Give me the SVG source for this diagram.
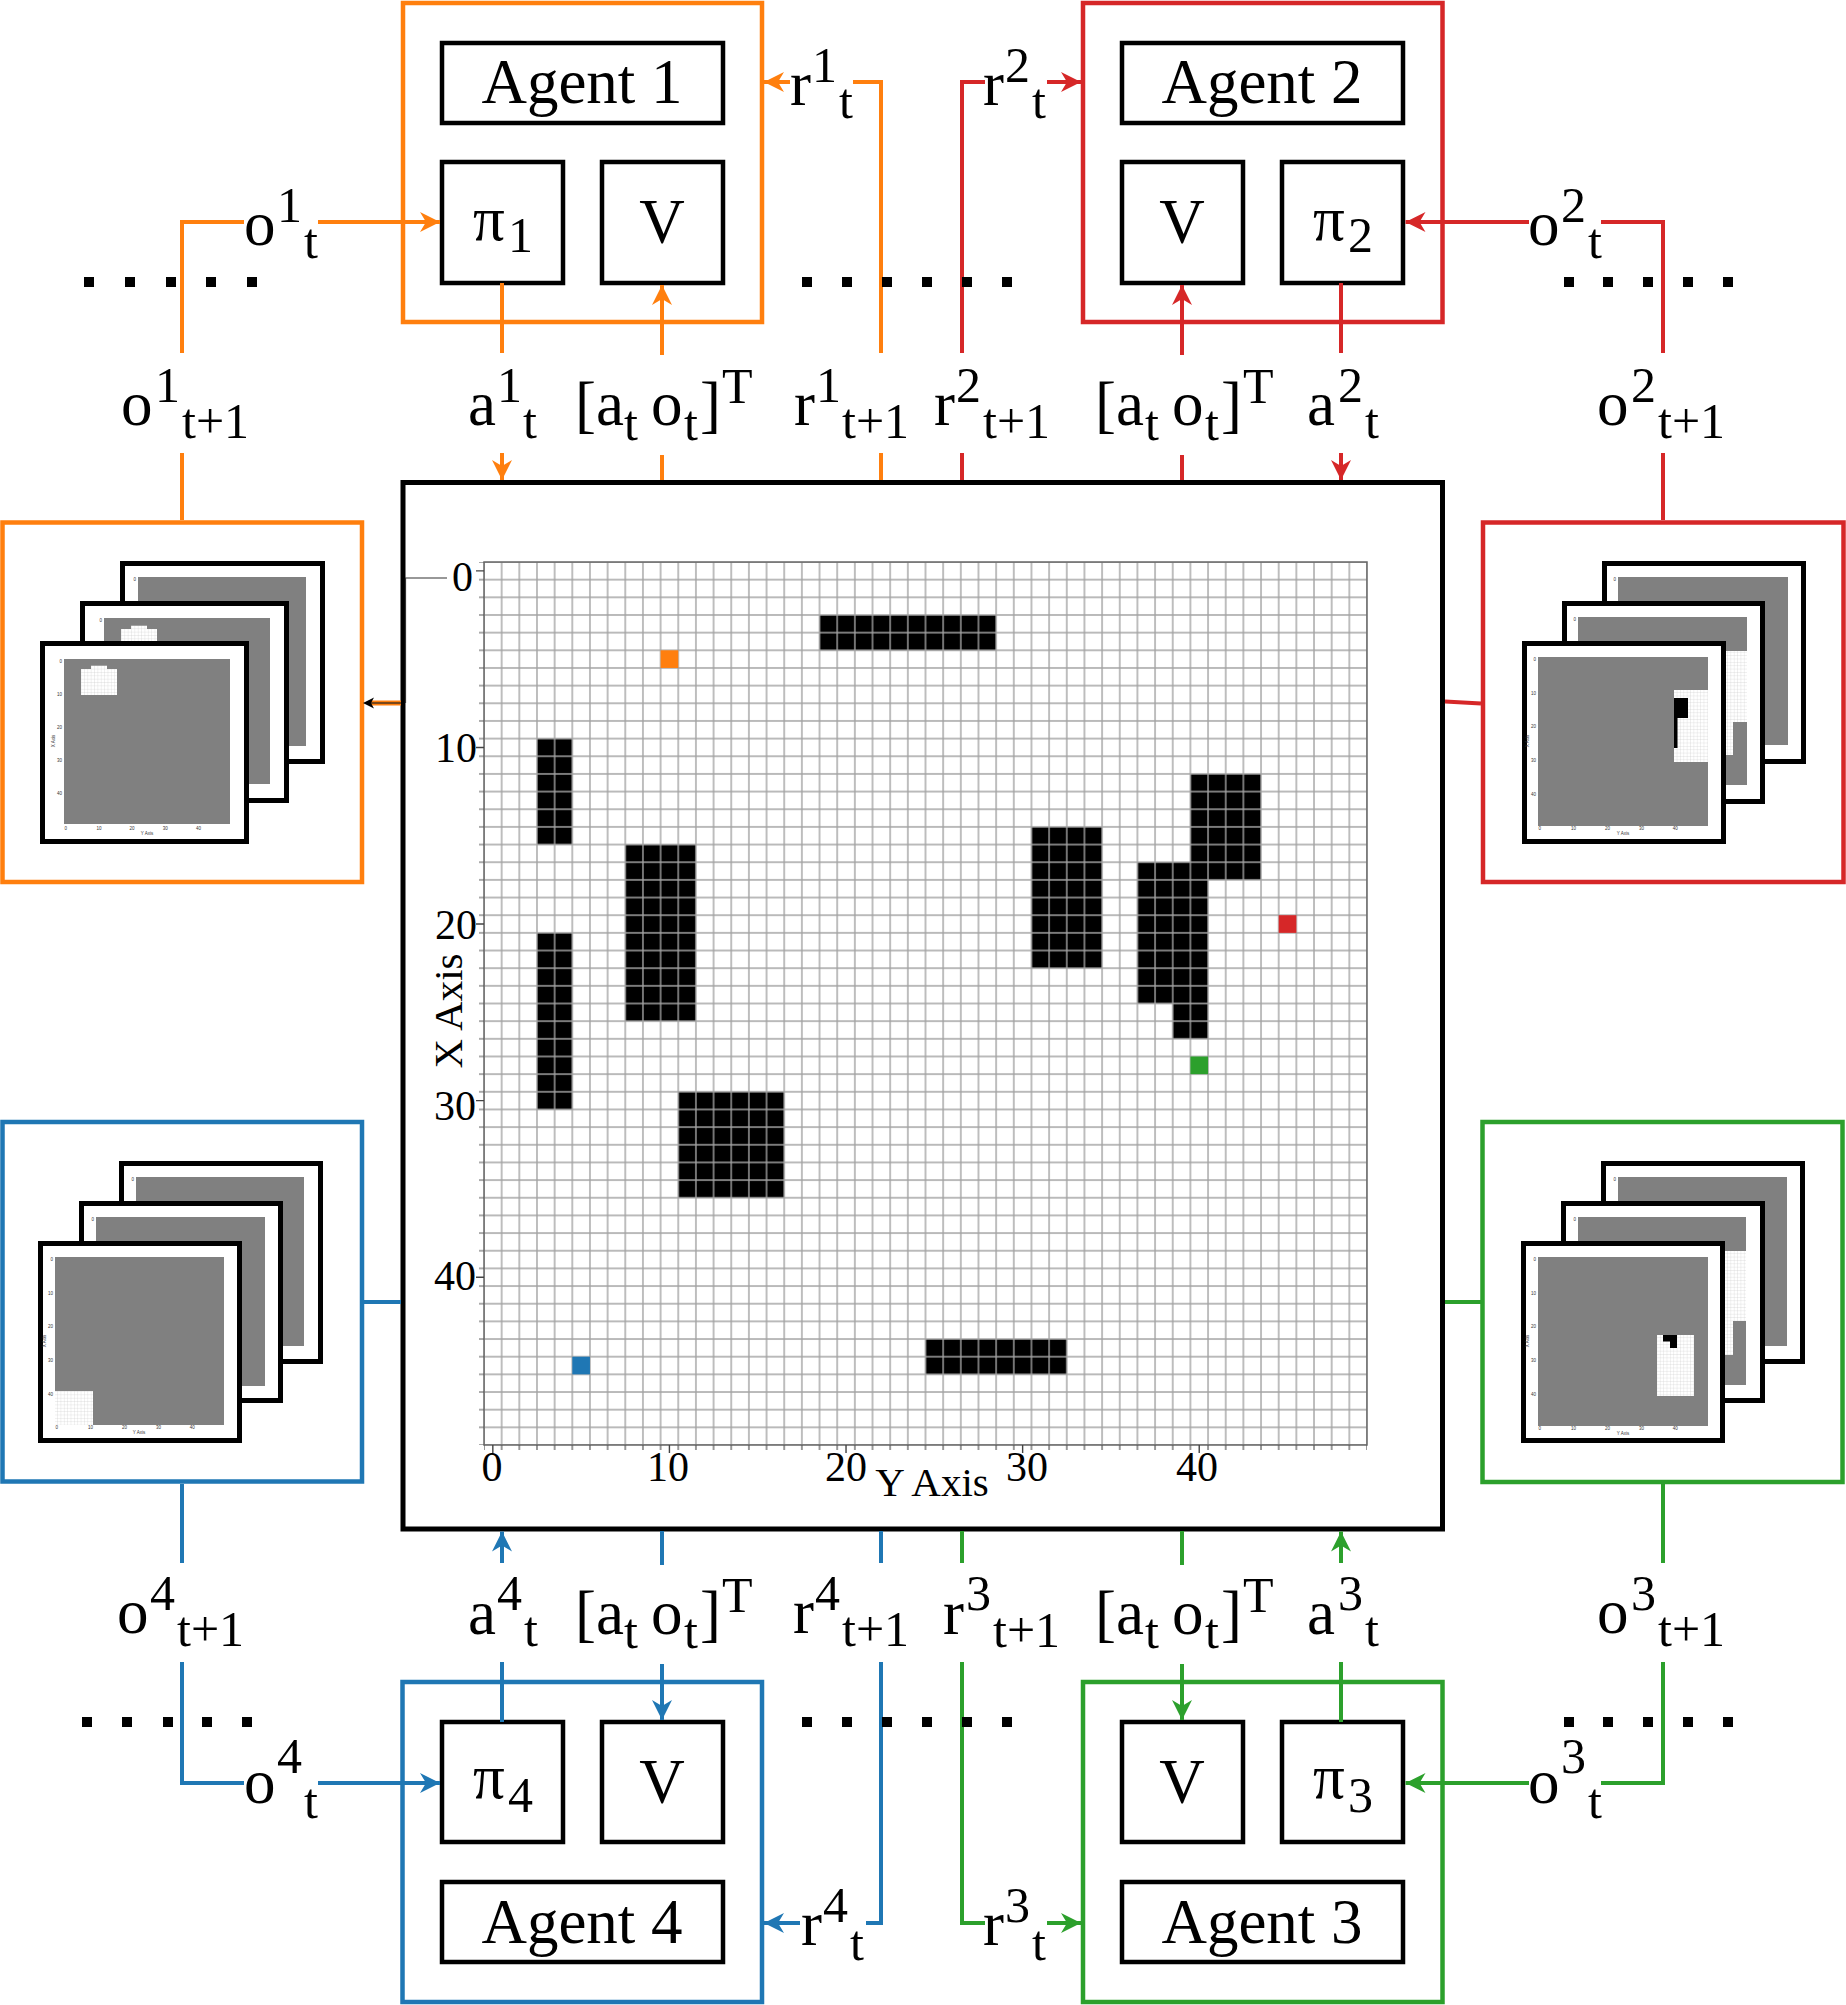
<svg xmlns="http://www.w3.org/2000/svg" width="1846" height="2005" viewBox="0 0 1846 2005">
<defs>
<style>
.t{font-family:"Liberation Serif","Times New Roman",serif;font-size:63px;fill:#000}
.s{font-size:50px}
.mid{text-anchor:middle}
.tk{font-family:"Liberation Serif","Times New Roman",serif;font-size:42px;fill:#000}
.ax{font-family:"Liberation Serif","Times New Roman",serif;font-size:41px;fill:#000;text-anchor:middle}
.mini{font-family:"Liberation Sans",Arial,sans-serif;font-size:4.5px;fill:#333}
.mr{text-anchor:end}
.mm{text-anchor:middle}
.box{fill:#fff;stroke:#000;stroke-width:4.5}
.frame{fill:#fff;stroke:#000;stroke-width:5}
.gray{fill:#808080}
.patch{fill:url(#mini)}
.c{fill:none;stroke-width:4}
.co{stroke:#ff7f0e}
.cr{stroke:#d62728}
.cg{stroke:#2ca02c}
.cb{stroke:#1f77b4}
.obs{fill:#fff;stroke-width:4.5}
.dot{fill:#000}
</style>
<pattern id="grid" x="484" y="562" width="17.66" height="17.66" patternUnits="userSpaceOnUse">
<path d="M0,0H17.66M0,17.66H17.66M0,0V17.66M17.66,0V17.66" fill="none" stroke="#a3a3a3" stroke-width="1.4"/>
</pattern>
<pattern id="mini" x="0" y="0" width="3.36" height="3.36" patternUnits="userSpaceOnUse">
<rect width="3.36" height="3.36" fill="#fff"/>
<path d="M0,0H3.36M0,0V3.36" fill="none" stroke="#c8c8c8" stroke-width="0.5"/>
</pattern>
<pattern id="yticks" x="0" y="562" width="10" height="17.66" patternUnits="userSpaceOnUse">
<path d="M0,0H10M0,17.66H10" stroke="#555" stroke-width="1.2"/>
</pattern>
<pattern id="xticks" x="484" y="0" width="17.66" height="10" patternUnits="userSpaceOnUse">
<path d="M0,0V10M17.66,0V10" stroke="#555" stroke-width="1.2"/>
</pattern>
<marker id="ao" viewBox="0 0 20 20" refX="20" refY="10" markerWidth="20" markerHeight="20" markerUnits="userSpaceOnUse" orient="auto"><path d="M0,0L20,10L0,20L6,10Z" fill="#ff7f0e"/></marker>
<marker id="ar" viewBox="0 0 20 20" refX="20" refY="10" markerWidth="20" markerHeight="20" markerUnits="userSpaceOnUse" orient="auto"><path d="M0,0L20,10L0,20L6,10Z" fill="#d62728"/></marker>
<marker id="ag" viewBox="0 0 20 20" refX="20" refY="10" markerWidth="20" markerHeight="20" markerUnits="userSpaceOnUse" orient="auto"><path d="M0,0L20,10L0,20L6,10Z" fill="#2ca02c"/></marker>
<marker id="ab" viewBox="0 0 20 20" refX="20" refY="10" markerWidth="20" markerHeight="20" markerUnits="userSpaceOnUse" orient="auto"><path d="M0,0L20,10L0,20L6,10Z" fill="#1f77b4"/></marker>
</defs>

<rect width="1846" height="2005" fill="#fff"/>

<!-- Agent 1 -->
<g id="agent1">
<rect x="403" y="3" width="359" height="319" fill="none" stroke="#ff7f0e" stroke-width="4.5"/>
<rect class="box" x="442" y="43" width="281" height="80"/>
<text class="t mid" x="582" y="103">Agent 1</text>
<rect class="box" x="442" y="162" width="121" height="121"/>
<text class="t"><tspan x="473" y="240">π</tspan><tspan class="s" x="508" y="252">1</tspan></text>
<rect class="box" x="602" y="162" width="121" height="121"/>
<text class="t mid" x="662" y="243">V</text>
</g>

<!-- Agent 2 -->
<g id="agent2">
<rect x="1083" y="3" width="359.5" height="319" fill="none" stroke="#d62728" stroke-width="4.5"/>
<rect class="box" x="1122" y="43" width="281" height="80"/>
<text class="t mid" x="1262" y="103">Agent 2</text>
<rect class="box" x="1122" y="162" width="121" height="121"/>
<text class="t mid" x="1182" y="243">V</text>
<rect class="box" x="1282" y="162" width="121" height="121"/>
<text class="t"><tspan x="1313" y="240">π</tspan><tspan class="s" x="1348" y="252">2</tspan></text>
</g>

<!-- Agent 4 -->
<g id="agent4">
<rect x="402.5" y="1682" width="359.5" height="320" fill="none" stroke="#1f77b4" stroke-width="4.5"/>
<rect class="box" x="442" y="1722" width="121" height="120"/>
<text class="t"><tspan x="473" y="1798">π</tspan><tspan class="s" x="508" y="1812">4</tspan></text>
<rect class="box" x="602" y="1722" width="121" height="120"/>
<text class="t mid" x="662" y="1803">V</text>
<rect class="box" x="442" y="1882" width="281" height="80"/>
<text class="t mid" x="582" y="1943">Agent 4</text>
</g>

<!-- Agent 3 -->
<g id="agent3">
<rect x="1083" y="1682" width="359.5" height="320" fill="none" stroke="#2ca02c" stroke-width="4.5"/>
<rect class="box" x="1122" y="1722" width="121" height="120"/>
<text class="t mid" x="1182" y="1803">V</text>
<rect class="box" x="1282" y="1722" width="121" height="120"/>
<text class="t"><tspan x="1313" y="1798">π</tspan><tspan class="s" x="1348" y="1812">3</tspan></text>
<rect class="box" x="1122" y="1882" width="281" height="80"/>
<text class="t mid" x="1262" y="1943">Agent 3</text>
</g>

<!-- Environment -->
<g id="environment">
<rect x="403" y="482.5" width="1039.5" height="1046.5" fill="#fff" stroke="#000" stroke-width="5"/>
<path d="M447,578H405.5V703" fill="none" stroke="#333" stroke-width="1.2"/>
<rect x="484" y="562" width="883" height="883" fill="#fff"/>
<g fill="#000">
<rect x="819.54" y="614.98" width="176.6" height="35.32"/>
<rect x="536.98" y="738.6" width="35.32" height="105.96"/>
<rect x="536.98" y="932.86" width="35.32" height="176.6"/>
<rect x="625.28" y="844.56" width="70.64" height="176.6"/>
<rect x="678.26" y="1091.8" width="105.96" height="105.96"/>
<rect x="925.5" y="1339.04" width="141.28" height="35.32"/>
<rect x="1031.46" y="826.9" width="70.64" height="141.28"/>
<rect x="1190.4" y="773.92" width="70.64" height="105.96"/>
<rect x="1137.42" y="862.22" width="70.64" height="141.28"/>
<rect x="1172.74" y="1003.5" width="35.32" height="35.32"/>
</g>
<rect x="484" y="562" width="883" height="883" fill="url(#grid)"/>
<rect x="660.6" y="650.3" width="17.66" height="17.66" fill="#ff7f0e"/>
<rect x="1278.7" y="915.2" width="17.66" height="17.66" fill="#d62728"/>
<rect x="1190.4" y="1056.5" width="17.66" height="17.66" fill="#2ca02c"/>
<rect x="572.3" y="1356.7" width="17.66" height="17.66" fill="#1f77b4"/>
<rect x="484" y="562" width="883" height="883" fill="none" stroke="#666" stroke-width="1.5"/>
<rect x="479" y="562" width="5" height="883" fill="url(#yticks)"/>
<rect x="484" y="1445" width="883" height="5" fill="url(#xticks)"/>
<path d="M476,570.83H484M476,747.43H484M476,924.03H484M476,1100.63H484M476,1277.23H484M492.83,1445V1453M669.43,1445V1453M846.03,1445V1453M1022.63,1445V1453M1199.23,1445V1453" stroke="#444" stroke-width="1.4"/>
<text class="tk" text-anchor="end" x="473" y="591">0</text>
<text class="tk" text-anchor="end" x="477" y="762">10</text>
<text class="tk" text-anchor="end" x="477" y="939">20</text>
<text class="tk" text-anchor="end" x="476" y="1120">30</text>
<text class="tk" text-anchor="end" x="476" y="1290">40</text>
<text class="tk" text-anchor="middle" x="492" y="1481">0</text>
<text class="tk" text-anchor="middle" x="668" y="1481">10</text>
<text class="tk" text-anchor="middle" x="846" y="1481">20</text>
<text class="tk" text-anchor="middle" x="1027" y="1481">30</text>
<text class="tk" text-anchor="middle" x="1197" y="1481">40</text>
<text class="ax" x="932" y="1496">Y Axis</text>
<text class="ax" transform="translate(462,1011) rotate(-90)" x="0" y="0">X Axis</text>
</g>

<!-- Observation 1 (orange) -->
<g id="obs1">
<rect class="obs" x="2.5" y="522.5" width="359.5" height="359.5" stroke="#ff7f0e"/>
<rect class="frame" x="122.5" y="563.5" width="200" height="198"/>
<rect class="gray" x="138" y="577" width="168" height="169"/>
<text class="mini mr" x="136" y="580.7">0</text>
<rect class="frame" x="82.5" y="603.5" width="204" height="197"/>
<rect class="gray" x="104" y="618" width="166" height="166"/>
<rect class="patch" x="121" y="629" width="36" height="26"/>
<rect class="patch" x="131" y="625.7" width="16" height="3.5"/>
<text class="mini mr" x="102" y="621.7">0</text>
<rect class="frame" x="42.5" y="643.5" width="204" height="198"/>
<rect class="gray" x="64" y="659" width="166" height="165"/>
<rect class="patch" x="81" y="669" width="36" height="26"/>
<rect class="patch" x="91" y="665.7" width="16" height="3.5"/>
<g transform="translate(64,659)">
<text class="mini mr" x="-2" y="3.6">0</text><text class="mini mr" x="-2" y="36.8">10</text><text class="mini mr" x="-2" y="70">20</text><text class="mini mr" x="-2" y="103.2">30</text><text class="mini mr" x="-2" y="136.4">40</text>
<text class="mini mm" x="1.7" y="171">0</text><text class="mini mm" x="34.9" y="171">10</text><text class="mini mm" x="68.1" y="171">20</text><text class="mini mm" x="101.3" y="171">30</text><text class="mini mm" x="134.5" y="171">40</text>
<text class="mini mm" x="83" y="175.5">Y Axis</text>
<text class="mini mm" transform="translate(-9,82) rotate(-90)">X Axis</text>
</g>
</g>

<!-- Observation 2 (red) -->
<g id="obs2">
<rect class="obs" x="1483" y="522.5" width="360.5" height="359.5" stroke="#d62728"/>
<rect class="frame" x="1604.5" y="563.5" width="199" height="198"/>
<rect class="gray" x="1618" y="577" width="170" height="168"/>
<text class="mini mr" x="1616" y="580.7">0</text>
<rect class="frame" x="1564.5" y="603.5" width="198" height="198"/>
<rect class="gray" x="1578" y="617" width="169" height="168"/>
<rect class="patch" x="1712" y="651" width="35" height="71"/>
<rect class="patch" x="1712" y="722" width="21" height="33"/>
<text class="mini mr" x="1576" y="620.7">0</text>
<rect class="frame" x="1524.5" y="643.5" width="199" height="198"/>
<rect class="gray" x="1538" y="657" width="170" height="169"/>
<rect class="patch" x="1674" y="690" width="34" height="72"/>
<rect x="1674" y="698" width="14" height="20" fill="#000"/>
<rect x="1674" y="718" width="3.5" height="30" fill="#000"/>
<g transform="translate(1538,657)">
<text class="mini mr" x="-2" y="3.6">0</text><text class="mini mr" x="-2" y="37.5">10</text><text class="mini mr" x="-2" y="71.4">20</text><text class="mini mr" x="-2" y="105.3">30</text><text class="mini mr" x="-2" y="139.2">40</text>
<text class="mini mm" x="1.7" y="173">0</text><text class="mini mm" x="35.6" y="173">10</text><text class="mini mm" x="69.5" y="173">20</text><text class="mini mm" x="103.4" y="173">30</text><text class="mini mm" x="137.3" y="173">40</text>
<text class="mini mm" x="85" y="177.5">Y Axis</text>
<text class="mini mm" transform="translate(-9,84) rotate(-90)">X Axis</text>
</g>
</g>

<!-- Observation 4 (blue) -->
<g id="obs4">
<rect class="obs" x="2.5" y="1122" width="359.5" height="359.5" stroke="#1f77b4"/>
<rect class="frame" x="121.5" y="1163.5" width="199" height="198"/>
<rect class="gray" x="136" y="1177" width="168" height="169"/>
<text class="mini mr" x="134" y="1180.7">0</text>
<rect class="frame" x="81.5" y="1203.5" width="199" height="197"/>
<rect class="gray" x="96" y="1217" width="169" height="169"/>
<text class="mini mr" x="94" y="1220.7">0</text>
<rect class="frame" x="40.5" y="1243.5" width="199" height="197"/>
<rect class="gray" x="55" y="1257" width="169" height="168"/>
<rect class="patch" x="55" y="1391" width="38" height="34"/>
<g transform="translate(55,1257)">
<text class="mini mr" x="-2" y="3.6">0</text><text class="mini mr" x="-2" y="37.5">10</text><text class="mini mr" x="-2" y="71.4">20</text><text class="mini mr" x="-2" y="105.3">30</text><text class="mini mr" x="-2" y="139.2">40</text>
<text class="mini mm" x="1.7" y="172">0</text><text class="mini mm" x="35.6" y="172">10</text><text class="mini mm" x="69.5" y="172">20</text><text class="mini mm" x="103.4" y="172">30</text><text class="mini mm" x="137.3" y="172">40</text>
<text class="mini mm" x="84" y="176.5">Y Axis</text>
<text class="mini mm" transform="translate(-9,84) rotate(-90)">X Axis</text>
</g>
</g>

<!-- Observation 3 (green) -->
<g id="obs3">
<rect class="obs" x="1482.5" y="1122" width="360" height="360" stroke="#2ca02c"/>
<rect class="frame" x="1603.5" y="1163.5" width="199" height="198"/>
<rect class="gray" x="1618" y="1177" width="169" height="169"/>
<text class="mini mr" x="1616" y="1180.7">0</text>
<rect class="frame" x="1563.5" y="1203.5" width="199" height="197"/>
<rect class="gray" x="1578" y="1217" width="168" height="168"/>
<rect class="patch" x="1712" y="1251" width="34" height="70"/>
<rect class="patch" x="1712" y="1321" width="21" height="34"/>
<text class="mini mr" x="1576" y="1220.7">0</text>
<rect class="frame" x="1523.5" y="1243.5" width="199" height="197"/>
<rect class="gray" x="1538" y="1257" width="170" height="169"/>
<rect class="patch" x="1657" y="1335" width="37" height="61"/>
<rect x="1663" y="1335" width="14" height="6.5" fill="#000"/>
<rect x="1670" y="1341" width="7" height="7" fill="#000"/>
<g transform="translate(1538,1257)">
<text class="mini mr" x="-2" y="3.6">0</text><text class="mini mr" x="-2" y="37.5">10</text><text class="mini mr" x="-2" y="71.4">20</text><text class="mini mr" x="-2" y="105.3">30</text><text class="mini mr" x="-2" y="139.2">40</text>
<text class="mini mm" x="1.7" y="173">0</text><text class="mini mm" x="35.6" y="173">10</text><text class="mini mm" x="69.5" y="173">20</text><text class="mini mm" x="103.4" y="173">30</text><text class="mini mm" x="137.3" y="173">40</text>
<text class="mini mm" x="85" y="177.5">Y Axis</text>
<text class="mini mm" transform="translate(-9,84) rotate(-90)">X Axis</text>
</g>
</g>

<!-- Connectors -->
<g id="connectors">
<!-- orange -->
<path class="c co" d="M182,520V453"/>
<path class="c co" d="M182,353V222H244"/>
<path class="c co" d="M318,222H440" marker-end="url(#ao)"/>
<path class="c co" d="M502,283V353"/>
<path class="c co" d="M502,453V480" marker-end="url(#ao)"/>
<path class="c co" d="M662,480V455"/>
<path class="c co" d="M662,355V285" marker-end="url(#ao)"/>
<path class="c co" d="M881,480V453"/>
<path class="c co" d="M881,353V82H853"/>
<path class="c co" d="M790,82H764" marker-end="url(#ao)"/>
<path d="M401,703H371" stroke="#ff7f0e" stroke-width="5"/>
<path d="M401,703H371" stroke="#222" stroke-width="1.2"/>
<path d="M363,703L374,697.5L371,703L374,708.5Z" fill="#000"/>
<!-- red -->
<path class="c cr" d="M1663,520V453"/>
<path class="c cr" d="M1663,353V222H1601"/>
<path class="c cr" d="M1529,222H1405.5" marker-end="url(#ar)"/>
<path class="c cr" d="M1341,283V353"/>
<path class="c cr" d="M1341,453V480" marker-end="url(#ar)"/>
<path class="c cr" d="M1182,480V455"/>
<path class="c cr" d="M1182,355V285" marker-end="url(#ar)"/>
<path class="c cr" d="M962,480V453"/>
<path class="c cr" d="M962,353V82H985"/>
<path class="c cr" d="M1047,82H1081" marker-end="url(#ar)"/>
<path class="c cr" d="M1445,701.5L1481,703.5"/>
<!-- green -->
<path class="c cg" d="M1663,1484V1563"/>
<path class="c cg" d="M1663,1662V1783H1601"/>
<path class="c cg" d="M1529,1783H1405.5" marker-end="url(#ag)"/>
<path class="c cg" d="M1341,1722V1662"/>
<path class="c cg" d="M1341,1563V1531.5" marker-end="url(#ag)"/>
<path class="c cg" d="M1182,1531V1565"/>
<path class="c cg" d="M1182,1664V1720" marker-end="url(#ag)"/>
<path class="c cg" d="M962,1531V1563"/>
<path class="c cg" d="M962,1662V1923H985"/>
<path class="c cg" d="M1047,1923H1081" marker-end="url(#ag)"/>
<path class="c cg" d="M1445,1302H1481"/>
<!-- blue -->
<path class="c cb" d="M182,1484V1563"/>
<path class="c cb" d="M182,1662V1783H244"/>
<path class="c cb" d="M318,1783H440" marker-end="url(#ab)"/>
<path class="c cb" d="M502,1722V1662"/>
<path class="c cb" d="M502,1563V1531.5" marker-end="url(#ab)"/>
<path class="c cb" d="M662,1531V1565"/>
<path class="c cb" d="M662,1664V1720" marker-end="url(#ab)"/>
<path class="c cb" d="M881,1531V1563"/>
<path class="c cb" d="M881,1662V1923H866"/>
<path class="c cb" d="M800,1923H764" marker-end="url(#ab)"/>
<path class="c cb" d="M364,1302H401"/>
</g>

<!-- Connector labels -->
<g id="labels">
<!-- top row -->
<text class="t"><tspan x="121" y="425">o</tspan><tspan class="s" x="155" y="402">1</tspan><tspan class="s" x="182" y="438">t+1</tspan></text>
<text class="t"><tspan x="468" y="425">a</tspan><tspan class="s" x="497" y="402">1</tspan><tspan class="s" x="523" y="438">t</tspan></text>
<text class="t"><tspan x="575" y="425">[a</tspan><tspan class="s" x="624" y="440">t</tspan><tspan x="651" y="425">o</tspan><tspan class="s" x="684" y="440">t</tspan><tspan x="700" y="425">]</tspan><tspan class="s" x="722" y="403">T</tspan></text>
<text class="t"><tspan x="794" y="425">r</tspan><tspan class="s" x="816" y="402">1</tspan><tspan class="s" x="842" y="438">t+1</tspan></text>
<text class="t"><tspan x="934" y="425">r</tspan><tspan class="s" x="956" y="402">2</tspan><tspan class="s" x="983" y="438">t+1</tspan></text>
<text class="t"><tspan x="1095" y="425">[a</tspan><tspan class="s" x="1145" y="440">t</tspan><tspan x="1172" y="425">o</tspan><tspan class="s" x="1205" y="440">t</tspan><tspan x="1221" y="425">]</tspan><tspan class="s" x="1243" y="403">T</tspan></text>
<text class="t"><tspan x="1307" y="425">a</tspan><tspan class="s" x="1338" y="402">2</tspan><tspan class="s" x="1365" y="438">t</tspan></text>
<text class="t"><tspan x="1597" y="425">o</tspan><tspan class="s" x="1631" y="402">2</tspan><tspan class="s" x="1658" y="438">t+1</tspan></text>
<!-- bottom row -->
<text class="t"><tspan x="117" y="1633">o</tspan><tspan class="s" x="150" y="1610">4</tspan><tspan class="s" x="177" y="1646">t+1</tspan></text>
<text class="t"><tspan x="468" y="1634">a</tspan><tspan class="s" x="497" y="1610">4</tspan><tspan class="s" x="524" y="1646">t</tspan></text>
<text class="t"><tspan x="575" y="1634">[a</tspan><tspan class="s" x="624" y="1648">t</tspan><tspan x="651" y="1634">o</tspan><tspan class="s" x="684" y="1648">t</tspan><tspan x="700" y="1634">]</tspan><tspan class="s" x="722" y="1612">T</tspan></text>
<text class="t"><tspan x="793" y="1633">r</tspan><tspan class="s" x="815" y="1610">4</tspan><tspan class="s" x="842" y="1646">t+1</tspan></text>
<text class="t"><tspan x="943" y="1634">r</tspan><tspan class="s" x="966" y="1610">3</tspan><tspan class="s" x="993" y="1647">t+1</tspan></text>
<text class="t"><tspan x="1095" y="1634">[a</tspan><tspan class="s" x="1145" y="1648">t</tspan><tspan x="1172" y="1634">o</tspan><tspan class="s" x="1205" y="1648">t</tspan><tspan x="1221" y="1634">]</tspan><tspan class="s" x="1243" y="1612">T</tspan></text>
<text class="t"><tspan x="1307" y="1634">a</tspan><tspan class="s" x="1338" y="1610">3</tspan><tspan class="s" x="1365" y="1646">t</tspan></text>
<text class="t"><tspan x="1597" y="1633">o</tspan><tspan class="s" x="1631" y="1610">3</tspan><tspan class="s" x="1658" y="1646">t+1</tspan></text>
<!-- side labels -->
<text class="t"><tspan x="244" y="245">o</tspan><tspan class="s" x="277" y="222">1</tspan><tspan class="s" x="304" y="258">t</tspan></text>
<text class="t"><tspan x="790" y="105">r</tspan><tspan class="s" x="812" y="82">1</tspan><tspan class="s" x="839" y="118">t</tspan></text>
<text class="t"><tspan x="983" y="105">r</tspan><tspan class="s" x="1005" y="82">2</tspan><tspan class="s" x="1032" y="118">t</tspan></text>
<text class="t"><tspan x="1528" y="245">o</tspan><tspan class="s" x="1561" y="222">2</tspan><tspan class="s" x="1588" y="258">t</tspan></text>
<text class="t"><tspan x="244" y="1803">o</tspan><tspan class="s" x="277" y="1773">4</tspan><tspan class="s" x="304" y="1818">t</tspan></text>
<text class="t"><tspan x="1528" y="1803">o</tspan><tspan class="s" x="1561" y="1773">3</tspan><tspan class="s" x="1588" y="1818">t</tspan></text>
<text class="t"><tspan x="801" y="1945">r</tspan><tspan class="s" x="823" y="1922">4</tspan><tspan class="s" x="850" y="1960">t</tspan></text>
<text class="t"><tspan x="983" y="1945">r</tspan><tspan class="s" x="1005" y="1922">3</tspan><tspan class="s" x="1032" y="1960">t</tspan></text>
</g>

<!-- Ellipsis dots -->
<g id="dots" class="dot">
<rect x="84" y="277" width="10" height="10"/><rect x="125" y="277" width="10" height="10"/><rect x="166" y="277" width="10" height="10"/><rect x="206" y="277" width="10" height="10"/><rect x="247" y="277" width="10" height="10"/>
<rect x="802" y="277" width="10" height="10"/><rect x="842" y="277" width="10" height="10"/><rect x="882" y="277" width="10" height="10"/><rect x="922" y="277" width="10" height="10"/><rect x="962" y="277" width="10" height="10"/><rect x="1002" y="277" width="10" height="10"/>
<rect x="1564" y="277" width="10" height="10"/><rect x="1603" y="277" width="10" height="10"/><rect x="1643" y="277" width="10" height="10"/><rect x="1683" y="277" width="10" height="10"/><rect x="1723" y="277" width="10" height="10"/>
<rect x="82" y="1717" width="10" height="10"/><rect x="122" y="1717" width="10" height="10"/><rect x="163" y="1717" width="10" height="10"/><rect x="202" y="1717" width="10" height="10"/><rect x="242" y="1717" width="10" height="10"/>
<rect x="802" y="1717" width="10" height="10"/><rect x="842" y="1717" width="10" height="10"/><rect x="882" y="1717" width="10" height="10"/><rect x="922" y="1717" width="10" height="10"/><rect x="962" y="1717" width="10" height="10"/><rect x="1002" y="1717" width="10" height="10"/>
<rect x="1564" y="1717" width="10" height="10"/><rect x="1603" y="1717" width="10" height="10"/><rect x="1643" y="1717" width="10" height="10"/><rect x="1683" y="1717" width="10" height="10"/><rect x="1723" y="1717" width="10" height="10"/>
</g>
</svg>
